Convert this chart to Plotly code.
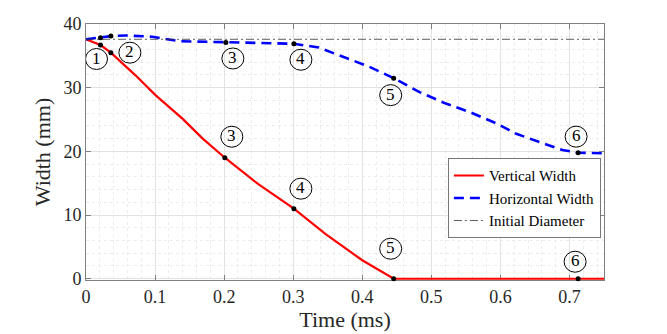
import plotly.graph_objects as go

# Vertical width (red)
t_vert = [0, 0.021, 0.036, 0.072, 0.101, 0.14, 0.169, 0.201, 0.25, 0.301,
          0.347, 0.40, 0.4455, 0.5, 0.6, 0.7125, 0.75]
w_vert = [37.6, 36.7, 35.5, 31.9, 28.8, 25.1, 22.0, 19.0, 14.8, 11.0,
          7.0, 2.9, 0.0, 0.0, 0.0, 0.0, 0.0]

# Horizontal width (blue dashed)
t_horz = [0, 0.021, 0.036, 0.058, 0.096, 0.135, 0.202, 0.26, 0.301, 0.337,
          0.376, 0.41, 0.4455, 0.483, 0.521, 0.555, 0.594, 0.622, 0.661,
          0.69, 0.7125, 0.75]
w_horz = [37.6, 37.85, 38.1, 38.2, 38.0, 37.3, 37.1, 37.0, 36.9, 36.3,
          34.7, 33.3, 31.5, 29.3, 27.5, 26.2, 24.4, 22.8, 21.3,
          20.2, 19.8, 19.7]

t_span = [0, 0.75]
initial_diameter = 37.6

# Numbered key points
key_labels = ['1', '2', '3', '4', '5', '6']
key_t_vert = [0.021, 0.036, 0.201, 0.301, 0.4455, 0.7125]
key_w_vert = [36.7, 35.5, 19.0, 11.0, 0.0, 0.0]
key_t_horz = [0.021, 0.036, 0.2025, 0.301, 0.4455, 0.7125]
key_w_horz = [37.85, 38.1, 37.1, 36.9, 31.5, 19.8]

SERIF = 'Liberation Serif'
TXT = '#262626'

fig = go.Figure()
fig.add_trace(go.Scatter(x=t_vert, y=w_vert, mode='lines', name='Vertical Width',
                         line=dict(color='#ff0000', width=2.2), cliponaxis=False))
fig.add_trace(go.Scatter(x=t_horz, y=w_horz, mode='lines', name='Horizontal Width',
                         line=dict(color='#0000ff', width=2.6, dash='10px,6px')))
fig.add_trace(go.Scatter(x=t_span, y=[initial_diameter] * 2, mode='lines',
                         name='Initial Diameter',
                         line=dict(color='#333333', width=0.8, dash='8px,3px,2px,3px')))
fig.add_trace(go.Scatter(x=key_t_vert + key_t_horz, y=key_w_vert + key_w_horz,
                         mode='markers', showlegend=False, cliponaxis=False,
                         marker=dict(color='black', size=5)))

# circled numbers: (series, index, dx, dy) pixel offsets from the key point
label_offsets = [
    ('v', 0, -4, -14), ('v', 1, 19, 0),
    ('h', 2, 7, -16), ('h', 3, 7, -16), ('h', 4, -3, -17), ('h', 5, -2, 16),
    ('v', 2, 7, 21), ('v', 3, 7, 20), ('v', 4, -3, 30), ('v', 5, -3, 17),
]
for s, i, dx, dy in label_offsets:
    x = key_t_vert[i] if s == 'v' else key_t_horz[i]
    y = key_w_vert[i] if s == 'v' else key_w_horz[i]
    fig.add_shape(type='circle', xref='x', yref='y', xsizemode='pixel', ysizemode='pixel',
                  xanchor=x, yanchor=y, x0=dx - 11, x1=dx + 11, y0=dy - 10.5, y1=dy + 10.5,
                  line=dict(color='black', width=1), fillcolor='rgba(0,0,0,0)')
    fig.add_annotation(x=x, y=y, text=key_labels[i], showarrow=False,
                       xshift=dx, yshift=dy + 1, font=dict(family=SERIF, size=17, color='black'))

axis_common = dict(showline=True, linecolor='#808080', linewidth=1, mirror='ticks',
                   ticks='inside', ticklen=5, tickcolor='#808080', layer='below traces',
                   showgrid=True, gridcolor='#e2e2e2', gridwidth=1, zeroline=False,
                   tickfont=dict(family=SERIF, size=18, color=TXT))

fig.update_xaxes(range=[0, 0.75], tickvals=[0, 0.1, 0.2, 0.3, 0.4, 0.5, 0.6, 0.7],
                 ticktext=['0', '0.1', '0.2', '0.3', '0.4', '0.5', '0.6', '0.7'],
                 title=dict(text='Time (ms)', font=dict(family=SERIF, size=22, color=TXT), standoff=0),
                 minor=dict(dtick=0.02, showgrid=True, gridcolor='#ececec', griddash='dot'),
                 **axis_common)
# slight padding below 0 so the red line lying on zero is not clipped
fig.update_yaxes(range=[-0.2, 40], tickvals=[0, 10, 20, 30, 40],
                 title=dict(text='Width (mm)', font=dict(family=SERIF, size=22, color=TXT), standoff=6),
                 minor=dict(tick0=0, dtick=2, showgrid=True, gridcolor='#ececec', griddash='dot'),
                 **axis_common)

fig.update_layout(
    width=667, height=334,
    margin=dict(l=86, r=63, t=24, b=51),
    plot_bgcolor='white', paper_bgcolor='white',
    legend=dict(x=0.994, y=0.163, xanchor='right', yanchor='bottom',
                bgcolor='white', bordercolor='#777777', borderwidth=1,
                font=dict(family=SERIF, size=15, color='black'),
                itemwidth=30, tracegroupgap=0),
)

# the page's default 8px body margin would shift the figure
fig.write_html("out.html", config={'displayModeBar': False},
               post_script="document.body.style.margin='0';")
